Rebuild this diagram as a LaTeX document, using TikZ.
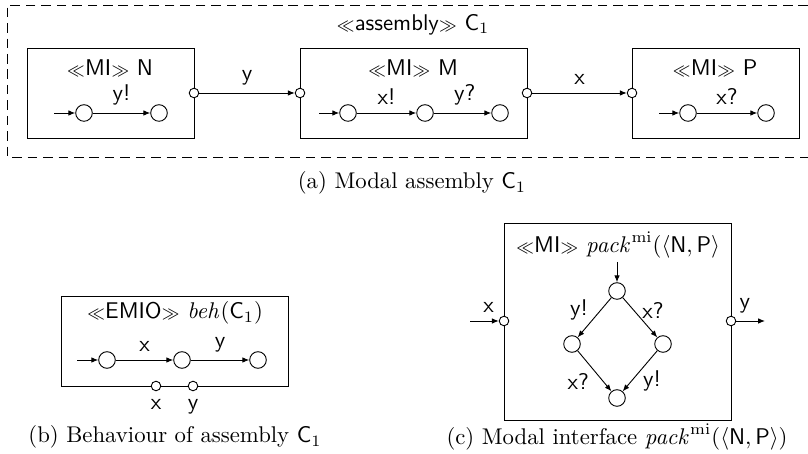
\documentclass[tikz,border=0pt]{standalone}
\usetikzlibrary{arrows.meta,fit}
\newcommand{\stl}{$\scriptstyle\ll$}
\newcommand{\stg}{$\scriptstyle\gg$}
\begin{document}
\begin{tikzpicture}[x=0.44pt,y=-0.44pt,line width=0.4pt,
  lbl/.style={font=\sffamily},
  dlbl/.style={font=\sffamily, inner sep=0pt},
  ttl/.style={font=\sffamily, inner sep=0pt},
  captext/.style={font=\normalsize, inner sep=0pt},
  state/.style={circle, draw, minimum size=7.3pt, inner sep=0pt},
  port/.style={circle, draw, fill=white, minimum size=4.2pt, inner sep=0pt},
  compbox/.style={draw, inner sep=0pt},
  arr/.style={-{Latex[length=3pt,width=2.4pt]}}]
\useasboundingbox (0,0) rectangle (808,454);

% ---------- (a) assembly ----------
\draw[dash pattern=on 4.2pt off 2.6pt] (808,5) -| (7,157) -- (808,157);
\node[ttl] (atitle) at (413,25) {\stl assembly\stg{} $\mathsf{C}_1$};

\node[compbox, fit={(27,48) (194,138)}] (nbox) {};
\node[compbox, fit={(300,48) (527,138)}] (mbox) {};
\node[compbox, fit={(632,48) (799,138)}] (pbox) {};

\node[ttl] (ntitle) at (110,68) {\stl MI\stg{} N};
\node[ttl] (mtitle) at (413,68) {\stl MI\stg{} M};
\node[ttl] (ptitle) at (715,68) {\stl MI\stg{} P};

% N
\coordinate (n0) at (54,113);
\node[state] (n1) at (84,113) {};
\node[state] (n2) at (159,113) {};
\draw[arr] (n0) -- (n1);
\draw[arr] (n1) -- node[lbl, above] {y!} (n2);
% M
\coordinate (m0) at (319,113);
\node[state] (m1) at (348,113) {};
\node[state] (m2) at (425,113) {};
\node[state] (m3) at (500,113) {};
\draw[arr] (m0) -- (m1);
\draw[arr] (m1) -- node[lbl, above] {x!} (m2);
\draw[arr] (m2) -- node[lbl, above, xshift=1pt] {y?} (m3);
% P
\coordinate (p0) at (659,113);
\node[state] (p1) at (688,113) {};
\node[state] (p2) at (766,113) {};
\draw[arr] (p0) -- (p1);
\draw[arr] (p1) -- node[lbl, above] {x?} (p2);

% ports
\node[port] (nport) at (194,93) {};
\node[port] (mportl) at (300,93) {};
\node[port] (mportr) at (527,93) {};
\node[port] (pport) at (632,93) {};
\draw[arr] (nport) -- node[lbl, above] {y} (mportl);
\draw[arr] (mportr) -- node[lbl, above] {x} (pport);

\node[captext] (capa) at (412,183) {(a) Modal assembly $\mathsf{C}_1$};

% ---------- (b) behaviour ----------
\node[compbox, fit={(61,296) (288,386)}] (ebox) {};
\node[ttl] (etitle) at (175,313) {\stl EMIO\stg{} $\mathit{beh}(\mathsf{C}_1)$};
\coordinate (e0) at (77,360);
\node[state] (e1) at (107,360) {};
\node[state] (e2) at (182,360) {};
\node[state] (e3) at (258,360) {};
\draw[arr] (e0) -- (e1);
\draw[arr] (e1) -- node[lbl, above] {x} (e2);
\draw[arr] (e2) -- node[lbl, above] {y} (e3);
\node[port, label={[lbl, label distance=0pt]below:x}] (eportx) at (156,386) {};
\node[port, label={[lbl, label distance=0pt]below:y}] (eporty) at (193,386) {};

\node[captext] (capb) at (175,437) {(b) Behaviour of assembly $\mathsf{C}_1$};

% ---------- (c) modal interface ----------
\node[compbox, fit={(504,223) (731,420)}] (cbox) {};
\node[ttl] (ctitle) at (618,245) {\stl MI\stg{} $\mathit{pack}^{\mathrm{mi}}(\langle\mathsf{N},\mathsf{P}\rangle$};
\coordinate (c0) at (617,262);
\node[state] (ct) at (617,291) {};
\node[state] (cl) at (572,344) {};
\node[state] (cr) at (663,344) {};
\node[state] (cb) at (617,398) {};
\draw[arr] (c0) -- (ct);
\draw[arr] (ct) -- node[dlbl, xshift=-6.8pt, yshift=3.3pt] {y!} (cl);
\draw[arr] (ct) -- node[dlbl, xshift=5.7pt, yshift=3.3pt] {x?} (cr);
\draw[arr] (cl) -- node[dlbl, xshift=-7.2pt, yshift=-4.4pt] {x?} (cb);
\draw[arr] (cr) -- node[dlbl, xshift=5.3pt, yshift=-4.4pt] {y!} (cb);

\node[port] (cportl) at (504,321) {};
\node[port] (cportr) at (731,321) {};
\coordinate (cin) at (470,321);
\coordinate (cout) at (765,321);
\draw[arr] (cin) -- node[lbl, above, pos=0.65] {x} (cportl);
\draw[arr] (cportr) -- node[lbl, above, pos=0.3] {y} (cout);

\node[captext] (capc) at (617,437) {(c) Modal interface $\mathit{pack}^{\mathrm{mi}}(\langle\mathsf{N},\mathsf{P}\rangle)$};
\end{tikzpicture}
\end{document}
